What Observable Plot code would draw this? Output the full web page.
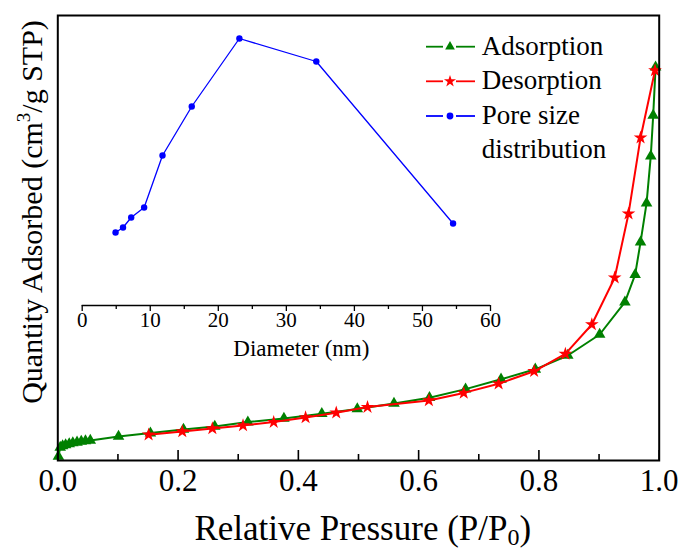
<!DOCTYPE html>
<html><head><meta charset="utf-8">
<script src="https://cdn.jsdelivr.net/npm/d3@7"></script>
<script src="https://cdn.jsdelivr.net/npm/@observablehq/plot@0.6"></script>
<style>
body{margin:0;background:#fff;}
#wrap{position:relative;width:683px;height:550px;}
#wrap svg{position:absolute;left:0;top:0;}
</style></head><body><div id="wrap"></div>
<script>
// Adsorption branch (P/P0, quantity adsorbed, arbitrary units)
const adsP = [0.001,0.004,0.008,0.013,0.019,0.025,0.032,0.039,0.046,0.054,0.101,0.154,0.209,0.261,0.316,0.376,0.439,0.498,0.559,0.618,0.678,0.737,0.794,0.848,0.901,0.943,0.960,0.969,0.979,0.986,0.990,0.994];
const adsQ = [2.0,6.5,7.3,7.8,8.3,8.8,9.1,9.5,9.8,10.0,12.0,13.7,15.5,17.0,19.2,21.0,23.4,25.8,28.5,31.4,35.7,40.6,45.6,52.5,63.0,79.2,92.9,109.2,128.7,152.2,172.5,196.7];
// Desorption branch
const desP = [0.151,0.207,0.257,0.308,0.359,0.412,0.463,0.515,0.617,0.675,0.733,0.792,0.844,0.888,0.926,0.949,0.969,0.993];
const desQ = [12.9,14.5,16.0,17.5,19.2,21.5,23.9,26.7,30.0,33.8,38.4,44.6,53.3,68.0,91.4,123.4,161.4,195.0];
// Inset: pore size distribution
const poreD = [4.9,6.0,7.2,9.1,11.8,16.1,23.1,34.4,54.5];
const poreV = [0.73,0.78,0.88,0.98,1.50,1.99,2.67,2.44,0.82];
// Tick labels
const xMajor = [0,0.2,0.4,0.6,0.8,1.0];
const xMinor = [0.1,0.3,0.5,0.7,0.9];
const dMajor = [0,10,20,30,40,50,60];
const dMinor = [5,15,25,35,45,55];
const legendLabels = [["Adsorption"],["Desorption"],["Pore size","distribution"]];

const GREEN = "#008000", RED = "#ff0000", BLUE = "#0000ff";
const FONT = "'Liberation Serif', serif";
const W = 683, H = 550;

const ads = adsP.map((p,i)=>({p, q: adsQ[i]}));
const des = desP.map((p,i)=>({p, q: desQ[i]}));
const pore = poreD.map((d,i)=>({d, v: poreV[i]}));

const main = Plot.plot({
  width: W, height: H,
  marginLeft: 57.3, marginRight: 24.3, marginTop: 15, marginBottom: 90,
  x: {domain: [0, 1], axis: null},
  y: {domain: [0, 222.5], axis: null},
  style: {fontFamily: FONT, background: "transparent", color: "#000"},
  marks: [
    Plot.line(ads, {x: "p", y: "q", stroke: GREEN, strokeWidth: 2}),
    Plot.dot(ads, {x: "p", y: "q", symbol: "triangle", r: 4.3, fill: GREEN, stroke: "none"}),
    Plot.line(des, {x: "p", y: "q", stroke: RED, strokeWidth: 2}),
    Plot.dot(des, {x: "p", y: "q", symbol: "star", r: 4.3, fill: RED, stroke: "none"}),
    Plot.ruleX(xMajor, {insetTop: 435, stroke: "#000", strokeWidth: 1.6}),
    Plot.ruleX(xMinor, {insetTop: 439, stroke: "#000", strokeWidth: 1.6}),
    Plot.frame({stroke: "#000", strokeWidth: 2}),
    Plot.text(xMajor, {x: d => d, frameAnchor: "bottom", dy: 30, text: d => d.toFixed(1), fontSize: 31, fontFamily: FONT, fill: "#000"})
  ]
});

const inset = Plot.plot({
  width: W, height: H,
  marginLeft: 81.7, marginRight: 193, marginTop: 25, marginBottom: 245,
  x: {domain: [0, 60], axis: null},
  y: {domain: [0, 2.8], axis: null},
  style: {fontFamily: FONT, background: "transparent", color: "#000"},
  marks: [
    Plot.ruleY([0], {stroke: "#000", strokeWidth: 1.3}),
    Plot.ruleX(dMajor, {insetTop: 280, insetBottom: -6, stroke: "#000", strokeWidth: 1.3}),
    Plot.ruleX(dMinor, {insetTop: 280, insetBottom: -4, stroke: "#000", strokeWidth: 1.3}),
    Plot.line(pore, {x: "d", y: "v", stroke: BLUE, strokeWidth: 1.3}),
    Plot.dot(pore, {x: "d", y: "v", r: 3.2, fill: BLUE, stroke: "none"}),
    Plot.text(dMajor, {x: d => d, frameAnchor: "bottom", dy: 21, text: d => String(d), fontSize: 21, fontFamily: FONT, fill: "#000"}),
    Plot.text(["Diameter (nm)"], {frameAnchor: "bottom", dx: 15, dy: 50, fontSize: 23, fontFamily: FONT, fill: "#000"})
  ]
});

const wrap = document.getElementById("wrap");
wrap.appendChild(main);
wrap.appendChild(inset);

const svg = d3.select(main);
// y axis label
const yl = svg.append("text")
  .attr("transform", "translate(41.7,212) rotate(-90)")
  .style("text-anchor", "middle")
  .style("font-family", FONT).style("font-size", "30px").attr("fill", "#000");
yl.append("tspan").text("Quantity Adsorbed (cm");
yl.append("tspan").style("font-size", "19px").attr("dy", -12).text("3");
yl.append("tspan").attr("dy", 12).text("/g STP)");
// x axis label
const xl = svg.append("text")
  .attr("x", 362.8).attr("y", 540)
  .style("text-anchor", "middle")
  .style("font-family", FONT).style("font-size", "35px").attr("fill", "#000");
xl.append("tspan").text("Relative Pressure (P/P");
xl.append("tspan").style("font-size", "24px").attr("dy", 5).text("0");
xl.append("tspan").attr("dy", -5).text(")");

// legend
const legend = svg.append("g");
const colors = [GREEN, RED, BLUE];
const syms = [d3.symbolTriangle, d3.symbolStar, d3.symbolCircle];
const sizes = [Math.PI*3.6*3.6, Math.PI*3.8*3.8, Math.PI*3.4*3.4];
const rowY = [46.7, 81.3, 116];
legendLabels.forEach((lines, i) => {
  const y = rowY[i];
  legend.append("line").attr("x1", 426).attr("x2", 443).attr("y1", y).attr("y2", y)
    .attr("stroke", colors[i]).attr("stroke-width", 1.8);
  legend.append("line").attr("x1", 456).attr("x2", 475).attr("y1", y).attr("y2", y)
    .attr("stroke", colors[i]).attr("stroke-width", 1.8);
  legend.append("path").attr("d", d3.symbol(syms[i], sizes[i])())
    .attr("transform", `translate(450,${y})`).attr("fill", colors[i]);
  lines.forEach((t, j) => {
    legend.append("text").attr("x", 481.7).attr("y", y + 7.8 + j*34.3)
      .style("text-anchor", "start").style("font-family", FONT).style("font-size", "27px")
      .attr("fill", "#000").text(t);
  });
});
</script></body></html>
